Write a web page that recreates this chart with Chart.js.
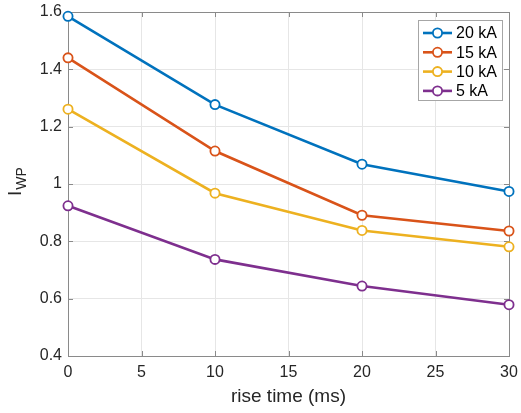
<!DOCTYPE html>
<html>
<head>
<meta charset="utf-8">
<title>I_WP vs rise time</title>
<script src="https://cdn.jsdelivr.net/npm/chart.js@4.4.0/dist/chart.umd.min.js"></script>
<style>
  html, body { margin: 0; padding: 0; background: #fff; }
  canvas { display: block; }
</style>
</head>
<body>
<canvas id="iwp" width="521" height="413"></canvas>
<script>
// rise time (ms) and I_WP for each peak current
const riseTimes = [0, 10, 20, 30];
const iwp20kA = [1.585, 1.277, 1.069, 0.974];
const iwp15kA = [1.440, 1.115, 0.891, 0.836];
const iwp10kA = [1.261, 0.968, 0.838, 0.781];
const iwp5kA = [0.924, 0.737, 0.644, 0.579];

const seriesLabels = ["20 kA", "15 kA", "10 kA", "5 kA"];
const seriesColors = ["#0072BD", "#D95319", "#EDB120", "#7E2F8E"];
const seriesValues = [iwp20kA, iwp15kA, iwp10kA, iwp5kA];

const xTitle = "rise time (ms)";
const yTitleMain = "I";
const yTitleSub = "WP";

const FONT = "'Liberation Sans', Arial, Helvetica, sans-serif";
const AXIS_GRAY = "#8a8a8a";
const TEXT_GRAY = "#262626";

const datasets = seriesValues.map((vals, i) => ({
    label: seriesLabels[i],
    data: riseTimes.map((t, k) => ({ x: t, y: vals[k] })),
    borderColor: seriesColors[i],
    backgroundColor: "#ffffff",
    borderWidth: 2.6,
    pointRadius: 4.6,
    pointBorderWidth: 1.8,
    pointBackgroundColor: "#ffffff",
    pointBorderColor: seriesColors[i],
    tension: 0,
    clip: false
}));

// box around the axes plus inward tick marks, like a matlab axes
const axesBox = {
    id: "axesBox",
    beforeDatasetsDraw(chart) {
        const { ctx, chartArea: a, scales } = chart;
        const len = 5;
        ctx.save();
        ctx.strokeStyle = AXIS_GRAY;
        ctx.lineWidth = 1;
        ctx.beginPath();
        scales.x.ticks.forEach(t => {
            const px = Math.round(scales.x.getPixelForValue(t.value)) + 0.5;
            ctx.moveTo(px, a.bottom); ctx.lineTo(px, a.bottom - len);
            ctx.moveTo(px, a.top); ctx.lineTo(px, a.top + len);
        });
        scales.y.ticks.forEach(t => {
            const py = Math.round(scales.y.getPixelForValue(t.value)) + 0.5;
            ctx.moveTo(a.left, py); ctx.lineTo(a.left + len, py);
            ctx.moveTo(a.right, py); ctx.lineTo(a.right - len, py);
        });
        ctx.stroke();
        ctx.strokeRect(Math.round(a.left) + 0.5, Math.round(a.top) + 0.5,
            Math.round(a.right - a.left), Math.round(a.bottom - a.top));
        ctx.restore();
    }
};

// y axis title with subscript
const yTitle = {
    id: "yTitle",
    afterDraw(chart) {
        const { ctx, chartArea: a } = chart;
        const cy = (a.top + a.bottom) / 2 - 2;
        ctx.save();
        ctx.fillStyle = TEXT_GRAY;
        ctx.translate(21, cy);
        ctx.rotate(-Math.PI / 2);
        ctx.textBaseline = "alphabetic";
        ctx.textAlign = "left";
        ctx.font = "19px " + FONT;
        const wMain = ctx.measureText(yTitleMain).width;
        ctx.font = "14px " + FONT;
        const wSub = ctx.measureText(yTitleSub).width;
        const x0 = -(wMain + wSub) / 2;
        ctx.font = "19px " + FONT;
        ctx.fillText(yTitleMain, x0, 0);
        ctx.font = "14px " + FONT;
        ctx.fillText(yTitleSub, x0 + wMain + 1, 5);
        ctx.restore();
    }
};

// legend box in the upper right corner
const cornerLegend = {
    id: "cornerLegend",
    afterDraw(chart) {
        const { ctx } = chart;
        const bx = 418.5, by = 20.5, bw = 84, bh = 80;
        ctx.save();
        ctx.fillStyle = "#ffffff";
        ctx.fillRect(bx, by, bw, bh);
        ctx.strokeStyle = "#a6a6a6";
        ctx.lineWidth = 1;
        ctx.strokeRect(bx, by, bw, bh);
        ctx.font = "16px " + FONT;
        ctx.textBaseline = "middle";
        chart.data.datasets.forEach((ds, i) => {
            const y = by + 12.5 + i * 19.3;
            ctx.strokeStyle = ds.borderColor;
            ctx.lineWidth = 2.6;
            ctx.beginPath();
            ctx.moveTo(423, y); ctx.lineTo(452, y);
            ctx.stroke();
            ctx.beginPath();
            ctx.arc(437.5, y, 4.6, 0, Math.PI * 2);
            ctx.fillStyle = "#ffffff";
            ctx.fill();
            ctx.lineWidth = 1.8;
            ctx.stroke();
            ctx.fillStyle = "#000000";
            ctx.fillText(ds.label, 456, y + 1);
        });
        ctx.restore();
    }
};

new Chart(document.getElementById("iwp").getContext("2d"), {
    type: "line",
    data: { datasets },
    options: {
        responsive: false,
        animation: false,
        layout: { autoPadding: false, padding: { top: 12, right: 12, left: 0, bottom: 0 } },
        plugins: {
            legend: { display: false },
            tooltip: { enabled: false }
        },
        scales: {
            x: {
                type: "linear",
                min: 0,
                max: 30,
                afterFit(scale) {
                    scale.height = 57;
                    scale.paddingLeft = 0;
                    scale.paddingRight = 0;
                },
                ticks: {
                    stepSize: 5,
                    padding: 7,
                    maxRotation: 0,
                    color: TEXT_GRAY,
                    font: { family: FONT, size: 16 }
                },
                grid: { color: "#e6e6e6", drawTicks: false },
                border: { display: false },
                title: {
                    display: true,
                    text: xTitle,
                    color: TEXT_GRAY,
                    font: { family: FONT, size: 19 },
                    padding: { top: 0, bottom: 5 }
                }
            },
            y: {
                type: "linear",
                min: 0.4,
                max: 1.6,
                afterFit(scale) {
                    scale.width = 68;
                    scale.paddingTop = 0;
                    scale.paddingBottom = 0;
                },
                ticks: {
                    stepSize: 0.2,
                    padding: 6,
                    color: TEXT_GRAY,
                    font: { family: FONT, size: 16 },
                    callback: v => String(Number(v.toFixed(1)))
                },
                grid: { color: "#e6e6e6", drawTicks: false },
                border: { display: false }
            }
        }
    },
    plugins: [axesBox, yTitle, cornerLegend]
});
</script>
</body>
</html>
